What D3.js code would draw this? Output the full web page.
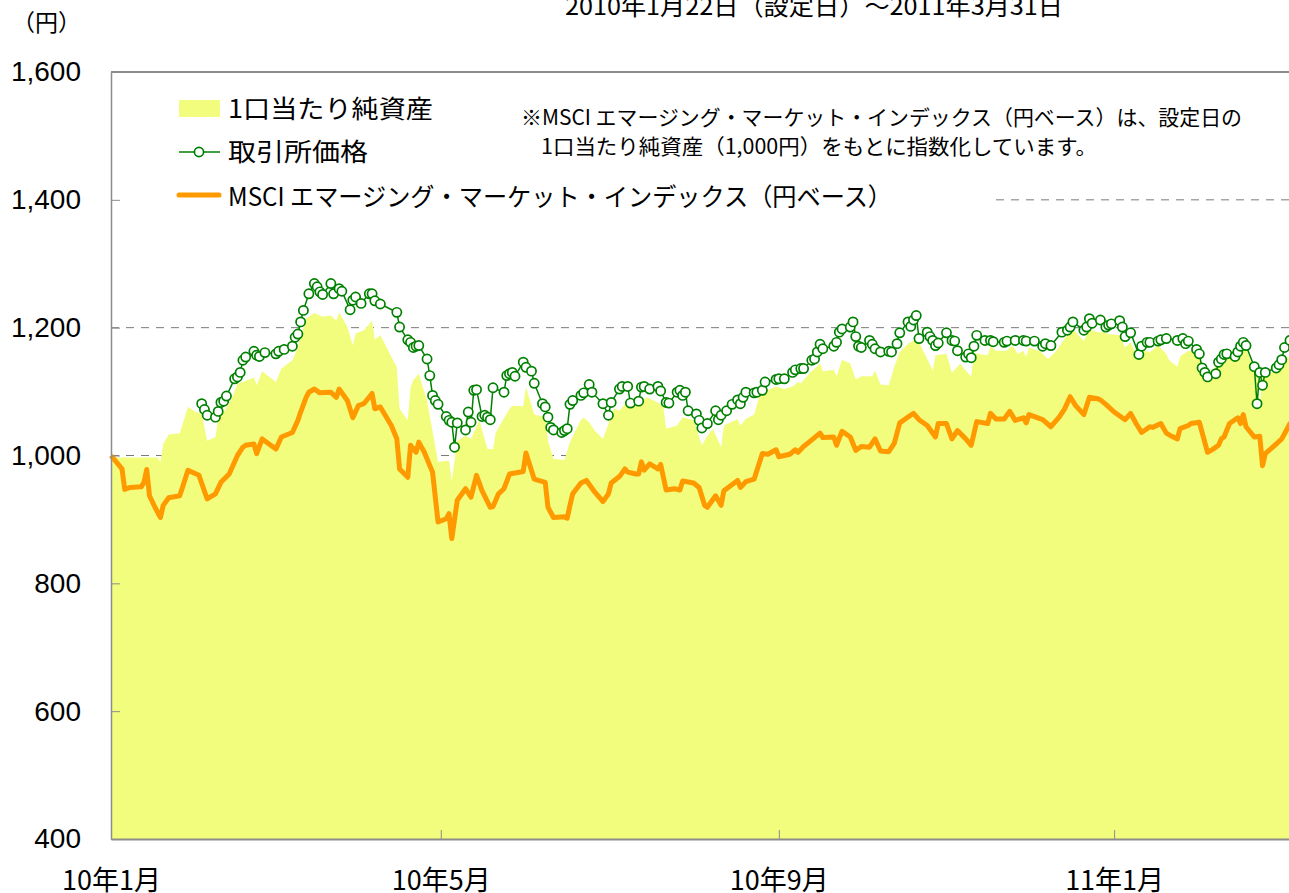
<!DOCTYPE html>
<html>
<head>
<meta charset="utf-8">
<script src="https://cdn.jsdelivr.net/npm/d3@7"></script>
<style>
  body { margin: 0; overflow: hidden; background: #fff; }
  svg { display: block; }
</style>
</head>
<body>
<script>
// Data (days counted from the setting date 2010-01-22)
var startDate = new Date(2010, 0, 22);
var endDate = new Date(2011, 2, 31);

// 1口当たり純資産
var navDays = [0, 17, 18, 19, 21, 25, 28, 31, 33, 35, 38, 39, 41, 44, 46, 52, 53, 55, 60, 62, 66, 68, 69, 71, 74, 77, 80, 82, 83, 86, 88, 89, 92, 95, 96, 98,
  104, 105, 108, 109, 110, 112, 115, 119, 123, 124, 126, 129, 131, 134, 137, 139, 140, 145, 146, 150, 151, 154, 158, 159, 161, 165, 167, 171, 172, 174, 176, 179,
  183, 185, 187, 189, 192, 195, 199, 201, 202, 206, 208, 212, 215, 217, 219, 222, 223, 228, 229, 231, 234, 236, 239, 242, 245, 248, 250, 251, 254, 258, 259,
  263, 264, 266, 269, 271, 273, 277, 278, 280, 283, 285, 287, 290, 292, 294, 297, 299, 300, 304, 306, 309, 312, 313, 314, 319, 320, 322, 326, 328, 330, 332,
  333, 334, 338, 341, 344, 347, 350, 352, 354, 356, 359, 361, 363, 367, 369, 371, 373, 376, 378, 381, 384, 385, 388, 389, 392, 395, 397, 399, 401, 403, 405,
  408, 411, 413, 415, 417, 418, 419, 421, 423, 426, 429, 433];
var navValues = [997, 997, 990, 1018, 1033, 1035, 1076, 1068, 1065, 1023, 1029, 1057, 1068, 1089, 1112, 1122, 1110, 1132, 1115, 1136, 1149, 1169, 1185, 1214, 1223, 1217, 1219, 1211, 1224, 1201, 1172, 1191, 1196, 1211, 1181, 1188,
  1138, 1073, 1055, 1107, 1118, 1128, 1086, 990, 992, 961, 1023, 1031, 1026, 1055, 1010, 1010, 1036, 1073, 1078, 1077, 1107, 1064, 1060, 1023, 995, 993, 1021, 1056, 1059, 1052, 1039, 1026,
  1073, 1070, 1081, 1076, 1081, 1091, 1083, 1076, 1042, 1047, 1060, 1055, 1016, 1031, 1042, 1013, 1047, 1057, 1047, 1057, 1064, 1094, 1102, 1108, 1104, 1108, 1115, 1113, 1128, 1144, 1132,
  1134, 1124, 1150, 1144, 1119, 1124, 1124, 1133, 1111, 1110, 1139, 1162, 1175, 1180, 1177, 1151, 1133, 1157, 1159, 1129, 1144, 1128, 1124, 1160, 1157, 1171, 1164, 1164, 1172, 1159, 1164,
  1154, 1169, 1163, 1151, 1164, 1183, 1198, 1188, 1179, 1198, 1193, 1193, 1190, 1188, 1169, 1177, 1159, 1164, 1162, 1172, 1159, 1149, 1139, 1155, 1164, 1162, 1144, 1133, 1133, 1149, 1157,
  1163, 1171, 1169, 1144, 1133, 1076, 1125, 1123, 1133, 1144, 1157, 1168];

// 取引所価格
var priceDays = [33, 34, 35, 38, 39, 40, 41, 42, 45, 46, 47, 48, 49, 52, 53, 54, 56, 60, 61, 63, 66, 67, 68, 69, 70, 72, 74, 75, 76, 77, 80, 81, 83, 84, 87, 88, 89, 91, 94, 95, 96, 98,
  104, 105, 108, 109, 110, 111, 112, 115, 116, 117, 118, 119, 122, 123, 124, 125, 126, 129, 130, 131, 132, 133, 135, 136, 137, 138, 139, 143, 144, 145, 146, 147, 150, 151, 153, 154,
  157, 158, 159, 160, 161, 164, 165, 166, 167, 168, 171, 172, 174, 175, 179, 181, 182, 185, 186, 188, 189, 192, 193, 194, 196, 199, 200, 202, 203, 206, 207, 208, 209, 210, 213, 214, 215, 217,
  220, 221, 222, 224, 226, 228, 229, 230, 231, 234, 235, 237, 238, 242, 243, 245, 248, 249, 251, 252, 255, 256, 257, 258, 259, 263, 264, 265, 266, 269, 270, 271, 272, 273, 276, 277, 278, 280,
  283, 284, 286, 287, 290, 291, 292, 293, 294, 297, 298, 299, 300, 301, 304, 306, 307, 308, 311, 312, 313, 314, 315, 318, 320, 321, 325, 326, 329, 332, 333, 336, 339, 340, 342,
  346, 348, 349, 350, 354, 355, 356, 357, 360, 362, 363, 364, 367, 368, 369, 371, 374, 375, 377, 378, 381, 382, 384, 388, 390, 391, 392, 395, 396, 397, 398, 399, 402, 403, 404, 405, 406,
  409, 410, 411, 412, 413, 416, 417, 418, 419, 420, 424, 425, 426, 427, 429];
var priceValues = [1081, 1072, 1063, 1060, 1069, 1083, 1085, 1093, 1120, 1123, 1130, 1149, 1154, 1163, 1157, 1155, 1161, 1159, 1163, 1166, 1171, 1185, 1190, 1209, 1227, 1253, 1269, 1264, 1256, 1252, 1269, 1253, 1261, 1257, 1228, 1243, 1248, 1238, 1253, 1253, 1242, 1237,
  1224, 1201, 1181, 1177, 1169, 1171, 1172, 1151, 1125, 1094, 1086, 1080, 1061, 1055, 1052, 1013, 1051, 1040, 1068, 1052, 1102, 1103, 1061, 1063, 1060, 1056, 1106, 1099, 1125, 1128, 1130, 1124, 1146, 1138, 1132, 1113,
  1081, 1076, 1060, 1044, 1040, 1036, 1039, 1042, 1080, 1086, 1094, 1098, 1111, 1099, 1081, 1063, 1083, 1104, 1108, 1108, 1082, 1085, 1107, 1108, 1104, 1108, 1101, 1083, 1082, 1099, 1102, 1094, 1099, 1070, 1065, 1055, 1043, 1050,
  1070, 1056, 1063, 1070, 1080, 1087, 1081, 1091, 1099, 1098, 1099, 1102, 1115, 1119, 1120, 1120, 1130, 1134, 1136, 1136, 1149, 1151, 1162, 1174, 1167, 1171, 1177, 1193, 1198, 1201, 1209, 1186, 1171, 1169, 1180, 1174, 1167, 1162,
  1163, 1162, 1175, 1192, 1209, 1202, 1212, 1219, 1183, 1193, 1186, 1180, 1172, 1176, 1192, 1180, 1179, 1164, 1154, 1159, 1153, 1171, 1188, 1180, 1180, 1178, 1177, 1179, 1180, 1180, 1179, 1179, 1171, 1175, 1172,
  1193, 1196, 1201, 1209, 1196, 1201, 1214, 1207, 1212, 1201, 1204, 1206, 1211, 1201, 1186, 1192, 1158, 1171, 1177, 1177, 1179, 1181, 1183, 1180, 1183, 1175, 1179, 1166, 1159, 1137, 1130, 1123, 1128, 1146, 1151, 1158, 1159,
  1155, 1162, 1171, 1177, 1172, 1139, 1081, 1130, 1110, 1130, 1137, 1142, 1150, 1169, 1180];

// MSCI エマージング・マーケット・インデックス（円ベース）
var indexDays = [0, 4, 5, 7, 11, 12, 13, 14, 16, 18, 19, 21, 25, 26, 28, 31, 32, 35, 38, 40, 43, 46, 48, 49, 52, 53, 55, 60, 62, 66, 68, 69, 71, 72, 74, 76, 80, 82, 83, 86, 88, 90, 92, 95, 96, 98,
  102, 104, 105, 108, 109, 111, 112, 114, 117, 119, 122, 123, 124, 126, 129, 131, 133, 135, 138, 139, 141, 143, 145, 150, 151, 154, 158, 159, 161, 165, 166, 167, 168, 171, 173, 176, 179,
  181, 182, 185, 187, 188, 191, 192, 193, 194, 196, 199, 200, 202, 205, 207, 208, 212, 214, 216, 217, 220, 222, 223, 228, 229, 231, 234, 237, 239, 242, 243, 247, 249, 250, 252, 254, 258, 259,
  263, 264, 266, 269, 271, 273, 276, 278, 280, 283, 285, 287, 289, 292, 294, 297, 300, 301, 304, 306, 308, 311, 313, 315, 319, 320, 322, 325, 327, 329, 332, 333, 334, 339, 342, 345, 347, 349,
  351, 354, 356, 359, 360, 362, 365, 369, 371, 373, 375, 378, 379, 382, 384, 386, 388, 389, 392, 393, 396, 399, 401, 403, 404, 405, 407, 410, 411, 412, 413, 416, 418, 419, 420, 424, 426, 429, 433];
var indexValues = [1000, 979, 947, 950, 951, 958, 978, 937, 919, 903, 922, 934, 937, 950, 977, 971, 969, 932, 940, 958, 971, 1000, 1013, 1016, 1018, 1003, 1026, 1010, 1029, 1036, 1055, 1068, 1091, 1099, 1104, 1098, 1099, 1091, 1104, 1086, 1059, 1078, 1081, 1097, 1073, 1076,
  1047, 1026, 979, 966, 1016, 1005, 1021, 1005, 974, 896, 901, 909, 870, 930, 948, 935, 969, 945, 919, 920, 940, 948, 971, 975, 1004, 963, 958, 919, 903, 904, 902, 922, 940, 957, 961, 943, 928,
  940, 957, 967, 979, 974, 971, 971, 990, 977, 987, 979, 986, 946, 948, 946, 960, 957, 950, 922, 919, 937, 922, 945, 961, 950, 959, 963, 1003, 1002, 1009, 998, 1002, 1009, 1005, 1014, 1021, 1035, 1028,
  1029, 1016, 1038, 1029, 1008, 1014, 1013, 1026, 1007, 1006, 1019, 1051, 1057, 1066, 1056, 1047, 1029, 1050, 1050, 1026, 1039, 1026, 1016, 1053, 1050, 1066, 1057, 1057, 1069, 1055, 1059, 1051, 1064, 1056, 1045, 1060, 1073, 1092,
  1078, 1064, 1091, 1089, 1087, 1080, 1068, 1056, 1066, 1050, 1036, 1045, 1044, 1050, 1035, 1030, 1026, 1042, 1047, 1050, 1052, 1005, 1010, 1016, 1026, 1029, 1050, 1059, 1050, 1064, 1045, 1029, 1030, 984, 1003, 1018, 1026, 1050, 1062];

var yTicks = [400, 600, 800, 1000, 1200, 1400, 1600];
var gridValues = [1000, 1200, 1400];
var xTickDates = ["2010-01-22", "2010-05-22", "2010-09-22", "2011-01-22"];

var legendLabels = ["1口当たり純資産", "取引所価格", "MSCI エマージング・マーケット・インデックス（円ベース）"];
var titleText = "2010年1月22日（設定日）～2011年3月31日";
var noteLines = ["※MSCI エマージング・マーケット・インデックス（円ベース）は、設定日の", "1口当たり純資産（1,000円）をもとに指数化しています。"];

/*
 * Bounds and colours.
 */
var width = 1289,
    height = 893;
var navColor = "#f2fd7d",
    priceColor = "#008000",
    indexColor = "#ff9900",
    axisColor = "#8c8c8c";
var jpFont = "'Noto Sans CJK JP', 'Noto Sans', sans-serif";
var numFont = "'Liberation Sans', Arial, sans-serif";

var svg = d3.select("body").append("svg")
  .attr("width", width)
  .attr("height", height);

var x = d3.scaleTime().domain([startDate, endDate]).range([111, 1301]);
var y = d3.scaleLinear().domain([400, 1600]).range([839, 72]);

function series(days, values) {
  return days.map(function(d, i) {
    return { date: d3.timeDay.offset(startDate, d), value: values[i] };
  });
}
var nav = series(navDays, navValues);
var price = series(priceDays, priceValues);
var index = series(indexDays, indexValues);

/*
 * Dashed grid lines.
 */
svg.append("g").selectAll("line")
  .data(gridValues)
  .enter().append("line")
  .attr("x1", 111).attr("x2", width)
  .attr("y1", function(d) { return y(d); })
  .attr("y2", function(d) { return y(d); })
  .attr("stroke", "#7a7a7a")
  .attr("stroke-width", 1)
  .attr("stroke-dasharray", "8,7");

/*
 * NAV area.
 */
var area = d3.area()
  .x(function(d) { return x(d.date); })
  .y0(y(400))
  .y1(function(d) { return y(d.value); });

svg.append("path")
  .datum(nav)
  .attr("d", area)
  .attr("fill", navColor);

/*
 * Index line.
 */
var line = d3.line()
  .x(function(d) { return x(d.date); })
  .y(function(d) { return y(d.value); });

svg.append("path")
  .datum(index)
  .attr("d", line)
  .attr("fill", "none")
  .attr("stroke", indexColor)
  .attr("stroke-width", 5)
  .attr("stroke-linejoin", "round");

/*
 * Exchange price with markers.
 */
svg.append("path")
  .datum(price)
  .attr("d", line)
  .attr("fill", "none")
  .attr("stroke", priceColor)
  .attr("stroke-width", 1.5);

svg.append("g").selectAll("circle")
  .data(price)
  .enter().append("circle")
  .attr("cx", function(d) { return x(d.date); })
  .attr("cy", function(d) { return y(d.value); })
  .attr("r", 4.6)
  .attr("fill", "#fff")
  .attr("stroke", priceColor)
  .attr("stroke-width", 1.7);

/*
 * Legend box (hides the 1400 grid line behind it).
 */
svg.append("rect")
  .attr("x", 112).attr("y", 84)
  .attr("width", 881).attr("height", 130)
  .attr("fill", "#fff");

var legend = svg.append("g");
legend.append("rect")
  .attr("x", 179).attr("y", 100).attr("width", 41).attr("height", 17)
  .attr("fill", navColor);
legend.append("line")
  .attr("x1", 179).attr("x2", 220).attr("y1", 152).attr("y2", 152)
  .attr("stroke", priceColor).attr("stroke-width", 1.5);
legend.append("circle")
  .attr("cx", 199).attr("cy", 152).attr("r", 4.6)
  .attr("fill", "#fff").attr("stroke", priceColor).attr("stroke-width", 1.7);
legend.append("line")
  .attr("x1", 179).attr("x2", 219).attr("y1", 195).attr("y2", 195)
  .attr("stroke", indexColor).attr("stroke-width", 5).attr("stroke-linecap", "round");

var legendY = [109, 152, 197],
    legendW = [205, 140, 664];
legend.selectAll("text")
  .data(legendLabels)
  .enter().append("text")
  .attr("x", 228)
  .attr("y", function(d, i) { return legendY[i]; })
  .attr("dy", "0.36em")
  .attr("textLength", function(d, i) { return legendW[i]; })
  .attr("lengthAdjust", "spacingAndGlyphs")
  .style("font-family", jpFont)
  .style("font-size", "25px")
  .style("fill", "#000")
  .text(function(d) { return d; });

/*
 * Note text and title.
 */
var noteX = [521, 541],
    noteY = [117, 146],
    noteW = [721, 556];
svg.append("g").selectAll("text")
  .data(noteLines)
  .enter().append("text")
  .attr("x", function(d, i) { return noteX[i]; })
  .attr("y", function(d, i) { return noteY[i]; })
  .attr("dy", "0.36em")
  .attr("textLength", function(d, i) { return noteW[i]; })
  .attr("lengthAdjust", "spacingAndGlyphs")
  .style("font-family", jpFont)
  .style("font-size", "21px")
  .style("fill", "#000")
  .text(function(d) { return d; });

svg.append("text")
  .attr("x", 565).attr("y", 15)
  .attr("textLength", 498)
  .attr("lengthAdjust", "spacingAndGlyphs")
  .style("font-family", jpFont)
  .style("font-size", "24px")
  .text(titleText);

svg.append("text")
  .attr("x", 12).attr("y", 23).attr("dy", "0.36em")
  .style("font-family", jpFont)
  .style("font-size", "23px")
  .text("（円）");

/*
 * Axes.
 */
svg.append("line")
  .attr("x1", 111).attr("x2", width)
  .attr("y1", y(1600)).attr("y2", y(1600))
  .attr("stroke", axisColor).attr("stroke-width", 2);

var yAxis = svg.append("g")
  .attr("transform", "translate(111,0)")
  .call(d3.axisLeft(y)
    .tickValues(yTicks)
    .tickSizeInner(-9)
    .tickSizeOuter(0)
    .tickPadding(30)
    .tickFormat(d3.format(",")));
yAxis.select(".domain").attr("stroke", axisColor).attr("stroke-width", 1.5);
yAxis.selectAll(".tick line").attr("stroke", axisColor);
yAxis.selectAll("text")
  .style("font-family", numFont)
  .style("font-size", "28px")
  .style("fill", "#000");

var parseDate = d3.timeParse("%Y-%m-%d");
var xAxis = svg.append("g")
  .attr("transform", "translate(0," + y(400) + ")")
  .call(d3.axisBottom(x)
    .tickValues(xTickDates.map(parseDate))
    .tickSizeInner(-9)
    .tickSizeOuter(0)
    .tickFormat(d3.timeFormat("%y年%-m月")));
xAxis.select(".domain").attr("stroke", axisColor).attr("stroke-width", 2);
xAxis.selectAll(".tick line").attr("stroke", axisColor);
xAxis.selectAll("text")
  .attr("y", 41)
  .attr("dy", "0.36em")
  .style("font-family", jpFont)
  .style("font-size", "27px")
  .style("fill", "#000");
</script>
</body>
</html>
